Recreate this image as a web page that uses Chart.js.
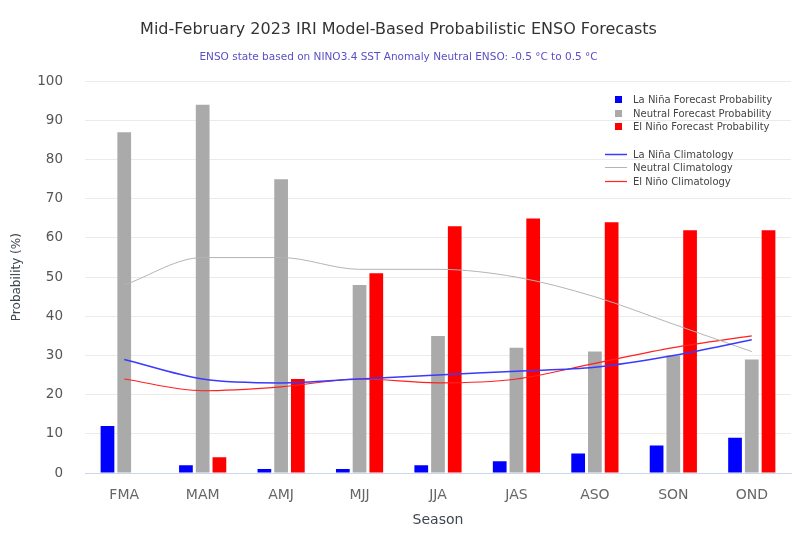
<!DOCTYPE html>
<html>
<head>
<meta charset="utf-8">
<script src="https://cdn.jsdelivr.net/npm/chart.js@4.4.0/dist/chart.umd.min.js"></script>
<style>
  html, body { margin: 0; padding: 0; background: #fff; }
  #wrap { position: relative; width: 798px; height: 536px; }
  #legend { position: absolute; left: 604px; top: 93px; font-family: "DejaVu Sans", sans-serif; font-size: 10px; color: #444; }
  #legend .row { height: 13.5px; line-height: 13.5px; white-space: nowrap; position: relative; padding-left: 29px; }
  #legend .sq { position: absolute; left: 11px; top: 3px; width: 7px; height: 7px; }
  #legend svg { position: absolute; left: 0; top: 4px; }
  #legend .gap { height: 14px; }
</style>
</head>
<body>
<div id="wrap">
  <canvas id="ensoChart" width="798" height="536"></canvas>
  <div id="legend"></div>
</div>
<script>
const seasons = ['FMA', 'MAM', 'AMJ', 'MJJ', 'JJA', 'JAS', 'ASO', 'SON', 'OND'];
const laNinaProb = [12, 2, 1, 1, 2, 3, 5, 7, 9];
const neutralProb = [87, 94, 75, 48, 35, 32, 31, 30, 29];
const elNinoProb = [0, 4, 24, 51, 63, 65, 64, 62, 62];
const laNinaClim = [29, 24, 23, 24, 25, 26, 27, 30, 34];
const neutralClim = [48, 55, 55, 52, 52, 50, 45, 38, 31];
const elNinoClim = [24, 21, 22, 24, 23, 24, 28, 32, 35];
const yTicks = [0, 10, 20, 30, 40, 50, 60, 70, 80, 90, 100];

const FONT = '"DejaVu Sans", sans-serif';

function barSet(label, data, color) {
    return { type: 'bar', label: label, data: data, backgroundColor: color, order: 2,
             barPercentage: 0.82, categoryPercentage: 0.64 };
}
function lineSet(label, data, color, width) {
    return { type: 'line', label: label, data: data, borderColor: color, borderWidth: width,
             pointRadius: 0, fill: false, cubicInterpolationMode: 'monotone', order: 1 };
}

const datasets = [
    barSet('La Niña Forecast Probability', laNinaProb, '#0000ff'),
    barSet('Neutral Forecast Probability', neutralProb, '#aaaaaa'),
    barSet('El Niño Forecast Probability', elNinoProb, '#ff0000'),
    lineSet('La Niña Climatology', laNinaClim, '#3a3aff', 1.5),
    lineSet('Neutral Climatology', neutralClim, '#b4b4b4', 1),
    lineSet('El Niño Climatology', elNinoClim, '#ff2020', 1.2)
];

// legend built from the datasets
const legendEl = document.getElementById('legend');
datasets.forEach((ds, i) => {
    if (i === 3) legendEl.insertAdjacentHTML('beforeend', '<div class="gap"></div>');
    const mark = ds.type === 'bar'
        ? `<span class="sq" style="background:${ds.backgroundColor}"></span>`
        : `<svg width="24" height="5"><line x1="1" y1="2.5" x2="23" y2="2.5" stroke="${ds.borderColor}" stroke-width="${ds.borderWidth}"/></svg>`;
    legendEl.insertAdjacentHTML('beforeend', `<div class="row">${mark}${ds.label}</div>`);
});

const ctx = document.getElementById('ensoChart').getContext('2d');
new Chart(ctx, {
    data: { labels: seasons, datasets: datasets },
    options: {
        responsive: false,
        animation: false,
        layout: { padding: { left: 6, right: 7, top: 8, bottom: 7 } },
        scales: {
            x: {
                offset: true,
                afterFit: axis => { axis.height = 56; },
                grid: { display: false, drawTicks: false },
                border: { color: '#ccd6eb', width: 1 },
                ticks: { color: '#666', font: { family: FONT, size: 14 }, padding: 13.5 },
                title: { display: true, text: 'Season', color: '#3d4650', font: { family: FONT, size: 14 }, padding: { top: 0, bottom: 0 } }
            },
            y: {
                min: 0, max: 100,
                afterBuildTicks: axis => { axis.ticks = yTicks.map(v => ({ value: v })); },
                afterFit: axis => { axis.width = 79; },
                grid: { color: '#ebebeb', lineWidth: 1, drawTicks: false },
                border: { display: false },
                ticks: { color: '#555', font: { family: FONT, size: 13.5 }, padding: 22 },
                title: { display: true, text: 'Probability (%)', color: '#3d4650', font: { family: FONT, size: 12 }, padding: { top: 4, bottom: 4 } }
            }
        },
        plugins: {
            legend: { display: false },
            tooltip: { enabled: false },
            title: {
                display: true,
                text: 'Mid-February 2023 IRI Model-Based Probabilistic ENSO Forecasts',
                color: '#333',
                font: { family: FONT, size: 16, weight: 'normal' },
                padding: { top: 12.5, bottom: 11 }
            },
            subtitle: {
                display: true,
                text: 'ENSO state based on NINO3.4 SST Anomaly Neutral ENSO: -0.5 °C to 0.5 °C',
                color: '#5b4fc4',
                font: { family: FONT, size: 10.5 },
                padding: { bottom: 18 }
            }
        }
    }
});
</script>
</body>
</html>
